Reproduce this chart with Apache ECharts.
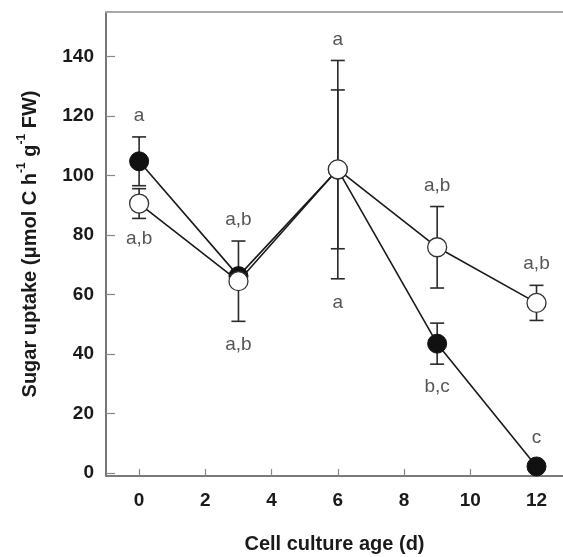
<!DOCTYPE html>
<html>
<head>
<meta charset="utf-8">
<script src="https://cdn.jsdelivr.net/npm/echarts@6/dist/echarts.min.js"></script>
<style>
html,body{margin:0;padding:0;background:#fff;}
#c{width:563px;height:557px;}
</style>
</head>
<body>
<div id="c"></div>
<script>
// ---- data ----
const days = [0, 3, 6, 9, 12];
const filledMean = [104.8, 66.2, 102.0, 43.5, 2.2];
const filledErr  = [8.2, 2.0, 36.7, 6.9, 0];
const openMean   = [90.6, 64.5, 102.1, 75.9, 57.2];
const openErr    = [5.0, 13.5, 26.7, 13.7, 5.9];

const xTicks = [0, 2, 4, 6, 8, 10, 12];
const yTicks = [0, 20, 40, 60, 80, 100, 120, 140];

const annX    = [0, 0, 3, 3, 6, 6, 9, 9, 12, 12];
const annY    = [120, 78.9, 85, 43.2, 145.6, 57.2, 96.5, 29.1, 70.2, 12];
const annText = ['a', 'a,b', 'a,b', 'a,b', 'a', 'a', 'a,b', 'b,c', 'a,b', 'c'];

// ---- build ----
const FONT = '"Liberation Sans", Arial, sans-serif';
function pts(means) { return days.map((d, i) => [d, means[i]]); }
function errs(means, e) {
  return days.map((d, i) => [d, means[i] - e[i], means[i] + e[i]]).filter((r, i) => e[i] > 0);
}
function errRender(params, api) {
  const x = api.value(0), lo = api.value(1), hi = api.value(2);
  const t = api.coord([x, hi]), b = api.coord([x, lo]);
  const hw = 7;
  const st = { stroke: '#2a2a2a', lineWidth: 1.6 };
  return {
    type: 'group',
    children: [
      { type: 'line', shape: { x1: t[0], y1: t[1], x2: b[0], y2: b[1] }, style: st },
      { type: 'line', shape: { x1: t[0] - hw, y1: t[1], x2: t[0] + hw, y2: t[1] }, style: st },
      { type: 'line', shape: { x1: b[0] - hw, y1: b[1], x2: b[0] + hw, y2: b[1] }, style: st }
    ]
  };
}

const chart = echarts.init(document.getElementById('c'), null, { renderer: 'canvas' });
chart.setOption({
  animation: false,
  backgroundColor: '#fff',
  grid: { left: 106, right: 0, top: 12, bottom: 81, outerBoundsMode: 'none', containLabel: false },
  xAxis: [{
    type: 'value', min: -1, max: 12.8,
    name: 'Cell culture age (d)', nameLocation: 'middle', nameGap: 58,
    nameTextStyle: { fontFamily: FONT, fontWeight: 'bold', fontSize: 20, color: '#1a1a1a' },
    axisLine: { onZero: false, lineStyle: { color: '#7a7a7a', width: 2 } },
    axisTick: { inside: true, length: 7, customValues: xTicks, lineStyle: { color: '#888', width: 1.2 } },
    axisLabel: { customValues: xTicks, margin: 15, fontFamily: FONT, fontWeight: 'bold', fontSize: 19, color: '#1a1a1a' },
    splitLine: { show: false }
  }, {
    type: 'value', position: 'top', min: -1, max: 12.8,
    axisLine: { show: true, onZero: false, lineStyle: { color: '#a8a8a8', width: 2 } },
    axisTick: { show: false }, axisLabel: { show: false }, splitLine: { show: false }
  }],
  yAxis: {
    type: 'value', min: -1, max: 155,
    name: '{m|Sugar uptake (μmol C h}{s|-1}{m| g}{s|-1}{m| FW)}',
    nameLocation: 'middle', nameGap: 66, nameRotate: 90,
    nameTextStyle: {
      rich: {
        m: { fontFamily: FONT, fontWeight: 'bold', fontSize: 20, color: '#1a1a1a', lineHeight: 24, verticalAlign: 'bottom' },
        s: { fontFamily: FONT, fontWeight: 'bold', fontSize: 12, color: '#1a1a1a', lineHeight: 24, verticalAlign: 'top', padding: [0, 0, 8, 0] }
      }
    },
    axisLine: { onZero: false, lineStyle: { color: '#4a4a4a', width: 1.5 } },
    axisTick: { inside: true, length: 9, customValues: yTicks, lineStyle: { color: '#888', width: 1.2 } },
    axisLabel: { customValues: yTicks, margin: 12, fontFamily: FONT, fontWeight: 'bold', fontSize: 19, color: '#1a1a1a' },
    splitLine: { show: false }
  },
  series: [
    {
      type: 'custom', renderItem: errRender, data: errs(filledMean, filledErr), z: 1,
      encode: { x: 0, y: [1, 2] }
    },
    {
      type: 'custom', renderItem: errRender, data: errs(openMean, openErr), z: 1,
      encode: { x: 0, y: [1, 2] }
    },
    {
      type: 'line', data: pts(filledMean), z: 3,
      symbol: 'circle', symbolSize: 19,
      lineStyle: { color: '#1a1a1a', width: 1.6 },
      itemStyle: { color: '#111', borderColor: '#111', borderWidth: 1 }
    },
    {
      type: 'line', data: pts(openMean), z: 4,
      symbol: 'circle', symbolSize: 19,
      lineStyle: { color: '#1a1a1a', width: 1.6 },
      itemStyle: { color: '#fff', borderColor: '#333', borderWidth: 1.3 }
    },
    {
      type: 'scatter', z: 5, symbolSize: 0, silent: true,
      data: annX.map((x, i) => ({ value: [x, annY[i]], label: { formatter: annText[i] } })),
      label: { show: true, position: 'inside', fontFamily: FONT, fontSize: 19, color: '#2a2a2a' }
    }
  ]
});
</script>
</body>
</html>
